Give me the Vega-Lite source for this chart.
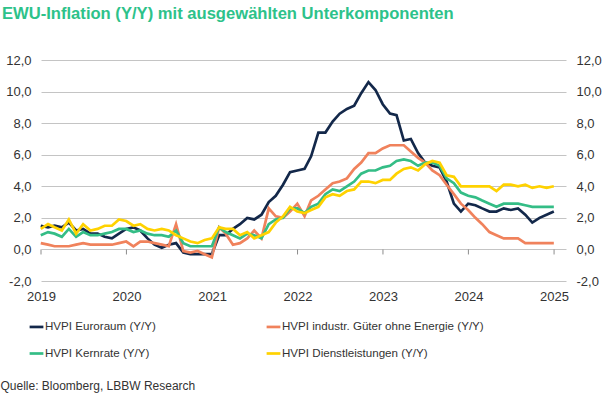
{
  "$schema": "https://vega.github.io/schema/vega-lite/v6.json",
  "width": 525,
  "height": 221,
  "autosize": {"type": "none"},
  "padding": {"left": 41, "top": 60, "right": 39, "bottom": 116},
  "background": "white",
  "config": {"font": "Liberation Sans", "view": {"stroke": null}},
  "title": {
    "text": "EWU-Inflation (Y/Y) mit ausgewählten Unterkomponenten",
    "anchor": "start",
    "frame": "group",
    "dx": -39,
    "fontSize": 16.6,
    "fontWeight": "bold",
    "color": "#2dc28a",
    "font": "Liberation Sans",
    "offset": 31
  },
  "datasets": {
    "infl": [
      {"d": "2018-12-31", "euro": 1.5, "neig": 0.4, "core": 0.9, "serv": 1.3},
      {"d": "2019-01-31", "euro": 1.4, "neig": 0.3, "core": 1.1, "serv": 1.6},
      {"d": "2019-02-28", "euro": 1.5, "neig": 0.2, "core": 1.0, "serv": 1.4},
      {"d": "2019-03-31", "euro": 1.4, "neig": 0.2, "core": 0.8, "serv": 1.2},
      {"d": "2019-04-30", "euro": 1.7, "neig": 0.2, "core": 1.3, "serv": 1.9},
      {"d": "2019-05-31", "euro": 1.2, "neig": 0.3, "core": 0.8, "serv": 1.0},
      {"d": "2019-06-30", "euro": 1.3, "neig": 0.4, "core": 1.1, "serv": 1.6},
      {"d": "2019-07-31", "euro": 1.0, "neig": 0.3, "core": 0.9, "serv": 1.2},
      {"d": "2019-08-31", "euro": 1.0, "neig": 0.3, "core": 0.9, "serv": 1.3},
      {"d": "2019-09-30", "euro": 0.8, "neig": 0.3, "core": 1.0, "serv": 1.5},
      {"d": "2019-10-31", "euro": 0.7, "neig": 0.3, "core": 1.1, "serv": 1.5},
      {"d": "2019-11-30", "euro": 1.0, "neig": 0.4, "core": 1.3, "serv": 1.9},
      {"d": "2019-12-31", "euro": 1.3, "neig": 0.5, "core": 1.3, "serv": 1.8},
      {"d": "2020-01-31", "euro": 1.4, "neig": 0.2, "core": 1.1, "serv": 1.5},
      {"d": "2020-02-29", "euro": 1.2, "neig": 0.5, "core": 1.2, "serv": 1.6},
      {"d": "2020-03-31", "euro": 0.7, "neig": 0.5, "core": 1.0, "serv": 1.3},
      {"d": "2020-04-30", "euro": 0.3, "neig": 0.4, "core": 0.9, "serv": 1.2},
      {"d": "2020-05-31", "euro": 0.1, "neig": 0.3, "core": 0.9, "serv": 1.3},
      {"d": "2020-06-30", "euro": 0.3, "neig": 0.2, "core": 0.8, "serv": 1.2},
      {"d": "2020-07-31", "euro": 0.4, "neig": 1.6, "core": 1.2, "serv": 0.9},
      {"d": "2020-08-31", "euro": -0.2, "neig": -0.1, "core": 0.4, "serv": 0.7},
      {"d": "2020-09-30", "euro": -0.3, "neig": -0.2, "core": 0.2, "serv": 0.5},
      {"d": "2020-10-31", "euro": -0.3, "neig": -0.1, "core": 0.2, "serv": 0.4},
      {"d": "2020-11-30", "euro": -0.3, "neig": -0.3, "core": 0.2, "serv": 0.6},
      {"d": "2020-12-31", "euro": -0.3, "neig": -0.5, "core": 0.2, "serv": 0.7},
      {"d": "2021-01-31", "euro": 0.9, "neig": 1.4, "core": 1.4, "serv": 1.4},
      {"d": "2021-02-28", "euro": 0.9, "neig": 1.0, "core": 1.1, "serv": 1.3},
      {"d": "2021-03-31", "euro": 1.3, "neig": 0.3, "core": 0.9, "serv": 1.3},
      {"d": "2021-04-30", "euro": 1.6, "neig": 0.4, "core": 0.7, "serv": 0.9},
      {"d": "2021-05-31", "euro": 2.0, "neig": 0.7, "core": 1.0, "serv": 1.1},
      {"d": "2021-06-30", "euro": 1.9, "neig": 1.2, "core": 0.9, "serv": 0.7},
      {"d": "2021-07-31", "euro": 2.2, "neig": 0.7, "core": 0.7, "serv": 0.9},
      {"d": "2021-08-31", "euro": 3.0, "neig": 2.6, "core": 1.6, "serv": 1.1},
      {"d": "2021-09-30", "euro": 3.4, "neig": 2.1, "core": 1.9, "serv": 1.7},
      {"d": "2021-10-31", "euro": 4.1, "neig": 2.0, "core": 2.0, "serv": 2.1},
      {"d": "2021-11-30", "euro": 4.9, "neig": 2.4, "core": 2.6, "serv": 2.7},
      {"d": "2021-12-31", "euro": 5.0, "neig": 2.9, "core": 2.6, "serv": 2.4},
      {"d": "2022-01-31", "euro": 5.1, "neig": 2.1, "core": 2.3, "serv": 2.3},
      {"d": "2022-02-28", "euro": 5.9, "neig": 3.1, "core": 2.7, "serv": 2.5},
      {"d": "2022-03-31", "euro": 7.4, "neig": 3.4, "core": 2.9, "serv": 2.7},
      {"d": "2022-04-30", "euro": 7.4, "neig": 3.8, "core": 3.5, "serv": 3.3},
      {"d": "2022-05-31", "euro": 8.1, "neig": 4.2, "core": 3.8, "serv": 3.5},
      {"d": "2022-06-30", "euro": 8.6, "neig": 4.3, "core": 3.7, "serv": 3.4},
      {"d": "2022-07-31", "euro": 8.9, "neig": 4.5, "core": 4.0, "serv": 3.7},
      {"d": "2022-08-31", "euro": 9.1, "neig": 5.1, "core": 4.3, "serv": 3.8},
      {"d": "2022-09-30", "euro": 9.9, "neig": 5.5, "core": 4.8, "serv": 4.3},
      {"d": "2022-10-31", "euro": 10.6, "neig": 6.1, "core": 5.0, "serv": 4.3},
      {"d": "2022-11-30", "euro": 10.1, "neig": 6.1, "core": 5.0, "serv": 4.2},
      {"d": "2022-12-31", "euro": 9.2, "neig": 6.4, "core": 5.2, "serv": 4.4},
      {"d": "2023-01-31", "euro": 8.6, "neig": 6.6, "core": 5.3, "serv": 4.4},
      {"d": "2023-02-28", "euro": 8.5, "neig": 6.6, "core": 5.6, "serv": 4.8},
      {"d": "2023-03-31", "euro": 6.9, "neig": 6.6, "core": 5.7, "serv": 5.1},
      {"d": "2023-04-30", "euro": 7.0, "neig": 6.2, "core": 5.6, "serv": 5.2},
      {"d": "2023-05-31", "euro": 6.1, "neig": 5.8, "core": 5.3, "serv": 5.0},
      {"d": "2023-06-30", "euro": 5.5, "neig": 5.5, "core": 5.5, "serv": 5.4},
      {"d": "2023-07-31", "euro": 5.3, "neig": 5.0, "core": 5.5, "serv": 5.6},
      {"d": "2023-08-31", "euro": 5.2, "neig": 4.7, "core": 5.3, "serv": 5.5},
      {"d": "2023-09-30", "euro": 4.3, "neig": 4.1, "core": 4.5, "serv": 4.7},
      {"d": "2023-10-31", "euro": 2.9, "neig": 3.5, "core": 4.2, "serv": 4.6},
      {"d": "2023-11-30", "euro": 2.4, "neig": 2.9, "core": 3.6, "serv": 4.0},
      {"d": "2023-12-31", "euro": 2.9, "neig": 2.5, "core": 3.4, "serv": 4.0},
      {"d": "2024-01-31", "euro": 2.8, "neig": 2.0, "core": 3.3, "serv": 4.0},
      {"d": "2024-02-29", "euro": 2.6, "neig": 1.6, "core": 3.1, "serv": 4.0},
      {"d": "2024-03-31", "euro": 2.4, "neig": 1.1, "core": 2.9, "serv": 4.0},
      {"d": "2024-04-30", "euro": 2.4, "neig": 0.9, "core": 2.7, "serv": 3.7},
      {"d": "2024-05-31", "euro": 2.6, "neig": 0.7, "core": 2.9, "serv": 4.1},
      {"d": "2024-06-30", "euro": 2.5, "neig": 0.7, "core": 2.9, "serv": 4.1},
      {"d": "2024-07-31", "euro": 2.6, "neig": 0.7, "core": 2.9, "serv": 4.0},
      {"d": "2024-08-31", "euro": 2.2, "neig": 0.4, "core": 2.8, "serv": 4.1},
      {"d": "2024-09-30", "euro": 1.7, "neig": 0.4, "core": 2.7, "serv": 3.9},
      {"d": "2024-10-31", "euro": 2.0, "neig": 0.4, "core": 2.7, "serv": 4.0},
      {"d": "2024-11-30", "euro": 2.2, "neig": 0.4, "core": 2.7, "serv": 3.9},
      {"d": "2024-12-31", "euro": 2.4, "neig": 0.4, "core": 2.7, "serv": 4.0}
    ],
    "years": [
      {"t": "2019-01-01"}, {"t": "2020-01-01"}, {"t": "2021-01-01"}, {"t": "2022-01-01"},
      {"t": "2023-01-01"}, {"t": "2024-01-01"}, {"t": "2025-01-01"}
    ]
  },
  "layer": [
    {
      "data": {"name": "infl"},
      "transform": [{"fold": ["euro", "neig", "core", "serv"], "as": ["series", "value"]}],
      "mark": {"type": "line", "strokeWidth": 2.7, "strokeJoin": "miter"},
      "encoding": {
        "x": {
          "field": "d", "type": "temporal",
          "scale": {"domain": [{"year": 2019, "month": 1, "date": 1}, {"year": 2025, "month": 2, "date": 21}]},
          "axis": {
            "orient": "bottom", "domain": false, "ticks": false, "grid": false,
            "format": "%Y", "tickCount": {"interval": "year", "step": 1},
            "labelFontSize": 13, "labelColor": "#333333", "labelPadding": 9, "labelFlush": false,
            "title": "Quelle: Bloomberg, LBBW Research",
            "titleFontSize": 12, "titleFontWeight": "normal", "titleColor": "#333333",
            "titleX": -41, "titleY": 104, "titleAlign": "left", "titleBaseline": "middle"
          }
        },
        "y": {
          "field": "value", "type": "quantitative",
          "scale": {"domain": [-2, 12], "nice": false},
          "axis": {
            "orient": "left", "values": [-2, 0, 2, 4, 6, 8, 10, 12],
            "labelExpr": "(datum.value < 0 ? '-' : '') + replace(format(abs(datum.value), '.1f'), '.', ',')",
            "domain": false, "ticks": false, "grid": true, "gridColor": "#c4c4c4", "gridWidth": 1,
            "labelFontSize": 13, "labelColor": "#333333", "labelPadding": 10, "title": null
          }
        },
        "color": {
          "field": "series", "type": "nominal",
          "scale": {"domain": ["euro", "neig", "core", "serv"], "range": ["#13284a", "#f0825c", "#34bd86", "#ffd200"]},
          "legend": {
            "orient": "none", "legendX": -13, "legendY": 258, "columns": 2, "direction": "horizontal",
            "title": null, "symbolType": "stroke", "symbolSize": 190, "symbolStrokeWidth": 2.7,
            "labelFontSize": 11.6, "labelColor": "#333333", "labelOffset": 0, "labelLimit": 0,
            "columnPadding": 101, "rowPadding": 12,
            "labelExpr": "datum.value == 'euro' ? 'HVPI Euroraum  (Y/Y)' : datum.value == 'neig' ? 'HVPI industr. Güter ohne Energie (Y/Y)' : datum.value == 'core' ? 'HVPI Kernrate (Y/Y)' : 'HVPI Dienstleistungen (Y/Y)'"
          }
        }
      }
    },
    {
      "mark": {"type": "rule", "color": "#8c8c8c", "strokeWidth": 1},
      "encoding": {"y": {"datum": 0, "type": "quantitative", "axis": null}}
    },
    {
      "data": {"name": "years"},
      "mark": {"type": "rule", "color": "#8c8c8c", "strokeWidth": 1},
      "encoding": {
        "x": {
          "field": "t", "type": "temporal",
          "axis": {
            "orient": "bottom", "domain": false, "ticks": false, "grid": false,
            "format": "%Y", "tickCount": {"interval": "year", "step": 1},
            "labelFontSize": 13, "labelColor": "#333333", "labelPadding": 9, "labelFlush": false,
            "title": "Quelle: Bloomberg, LBBW Research",
            "titleFontSize": 12, "titleFontWeight": "normal", "titleColor": "#333333",
            "titleX": -41, "titleY": 104, "titleAlign": "left", "titleBaseline": "middle"
          }
        },
        "y": {"datum": 0, "type": "quantitative", "axis": null},
        "y2": {"datum": -0.32}
      }
    },
    {
      "mark": {"type": "rule", "color": "#00a3cc", "strokeWidth": 2.7},
      "encoding": {
        "y": {
          "datum": 2, "type": "quantitative",
          "axis": {
            "orient": "right", "values": [-2, 0, 2, 4, 6, 8, 10, 12],
            "labelExpr": "(datum.value < 0 ? '-' : '') + replace(format(abs(datum.value), '.1f'), '.', ',')",
            "domain": false, "ticks": false, "grid": false,
            "labelFontSize": 13, "labelColor": "#333333", "labelPadding": 10, "title": null
          }
        }
      }
    }
  ],
  "resolve": {"axis": {"y": "independent"}}
}
